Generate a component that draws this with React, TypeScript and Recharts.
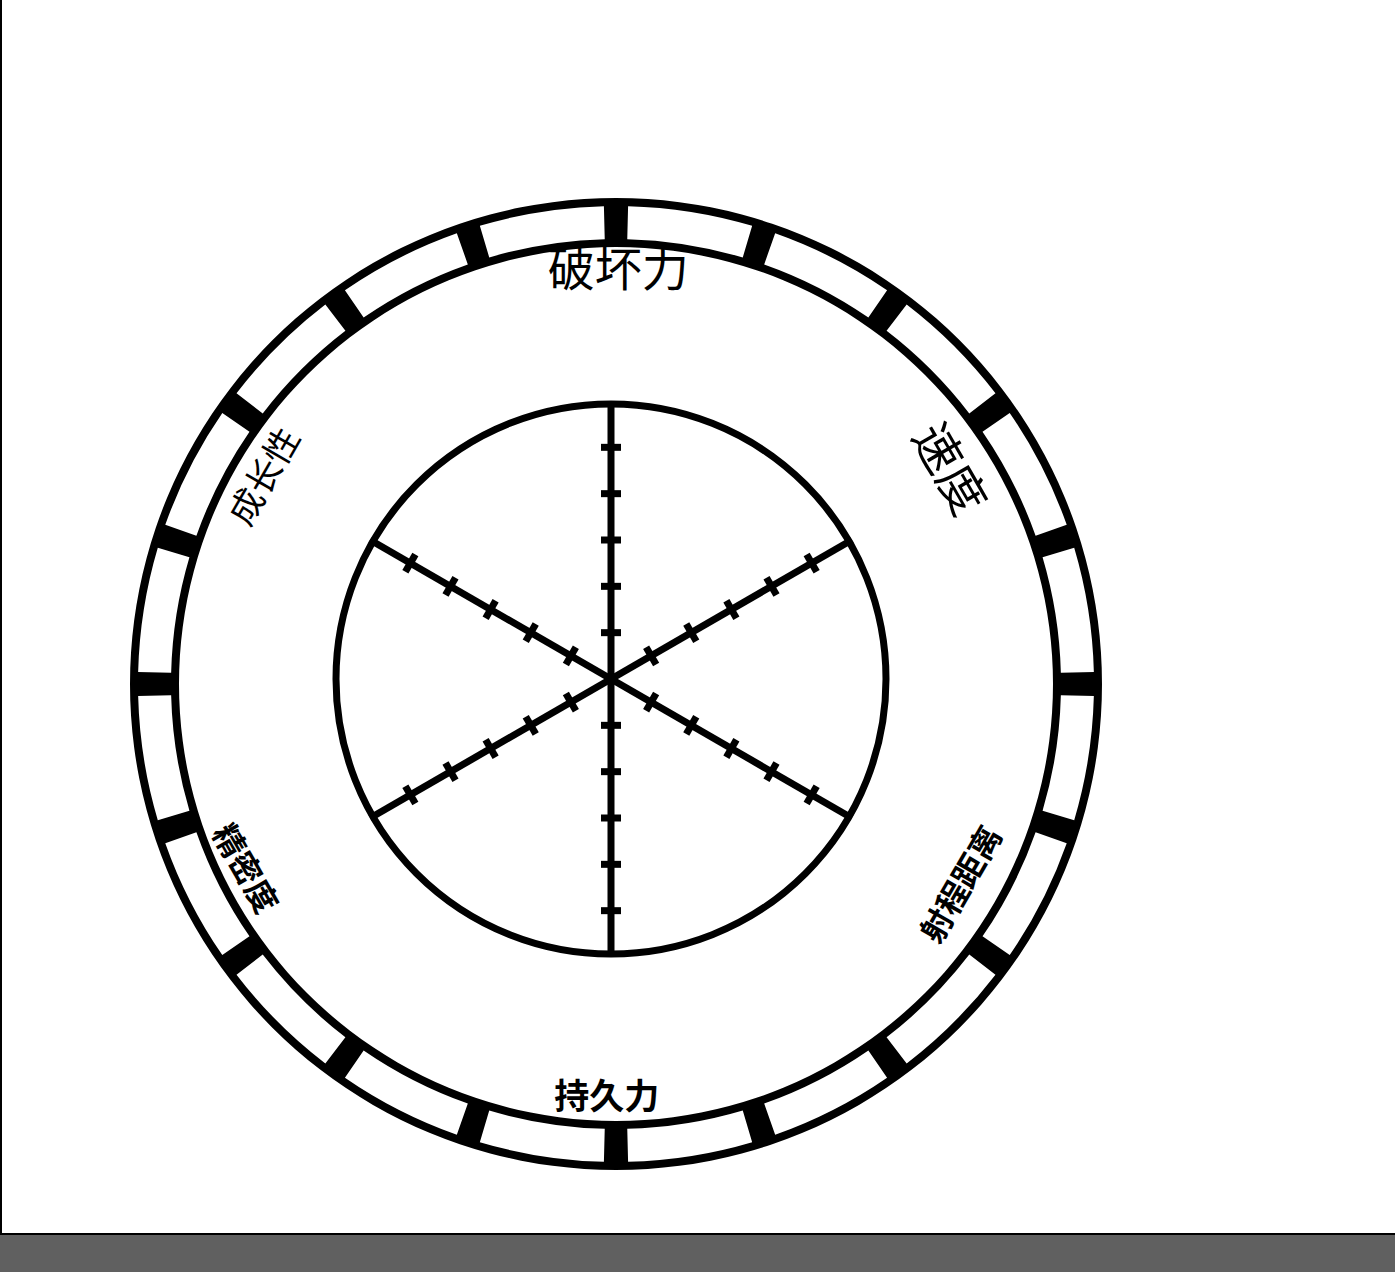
import {
  PieChart,
  Pie,
  Cell,
  RadarChart,
  PolarGrid,
  PolarAngleAxis,
  PolarRadiusAxis,
} from 'recharts';

// Stand parameters (blank sheet, no values plotted)
const stats = ['破坏力', '速度', '射程距离', '持久力', '精密度', '成长性'];
// Rank marks on each spoke (E..A), spoke ends at 6
const rankTicks = [1, 2, 3, 4, 5];
const rankMax = 6;
// Outer dial: 20 equal segments
const dialSegments = [1, 1, 1, 1, 1, 1, 1, 1, 1, 1, 1, 1, 1, 1, 1, 1, 1, 1, 1, 1];

// label look: size, weight, radius and a small angular nudge (deg, clockwise)
const labelStyle = [
  { size: 47, weight: 400, r: 411, nudge: 1.0 },
  { size: 48, weight: 400, r: 400, nudge: -1.8 },
  { size: 32, weight: 700, r: 405, nudge: 0.4 },
  { size: 35, weight: 700, r: 416, nudge: 0.6 },
  { size: 32, weight: 700, r: 411, nudge: 2.6 },
  { size: 35, weight: 400, r: 403, nudge: 0.3 },
];

const W = 1395;
const H = 1233;
const CX = 611;
const CY = 679;
const GAP = 2.9; // angular width of the dial marks
const spokeAngles = [90, 30, -30, -90, -150, 150];

const data = stats.map((s) => ({ stat: s }));
const dialData = dialSegments.map((v) => ({ v }));

function StatLabel(props: any) {
  const { payload, index } = props;
  const st = labelStyle[index] ?? labelStyle[0];
  const a = payload.coordinate - st.nudge;
  const rad = (a * Math.PI) / 180;
  const x = CX + st.r * Math.cos(rad);
  const y = CY - st.r * Math.sin(rad);
  let rot = (((90 - payload.coordinate) % 360) + 360) % 360;
  if (rot > 90 && rot < 270) rot -= 180;
  else if (rot >= 270) rot -= 360;
  return (
    <text
      x={x}
      y={y}
      dy={-st.size * 0.05}
      transform={`rotate(${rot} ${x} ${y})`}
      textAnchor="middle"
      dominantBaseline="central"
      fontSize={st.size}
      fontWeight={st.weight}
      fontFamily="'Noto Sans CJK SC', 'Noto Sans CJK JP', sans-serif"
      fill="#000"
    >
      {payload.value}
    </text>
  );
}

const makeRankTick = (angle: number) => (props: any) => {
  const { x, y, payload } = props;
  if (payload.value <= 0 || payload.value >= rankMax) return <g />;
  const rad = (angle * Math.PI) / 180;
  const px = Math.sin(rad) * 10;
  const py = Math.cos(rad) * 10;
  return <line x1={x - px} y1={y - py} x2={x + px} y2={y + py} stroke="#000" strokeWidth={7} />;
};

export default function App() {
  return (
    <div style={{ position: 'fixed', left: 0, top: 0, width: W, height: 1272, background: '#fff' }}>
      <div
        style={{
          position: 'absolute',
          left: 0,
          top: 0,
          width: W,
          height: 1235,
          borderLeft: '2px solid #000',
          borderBottom: '2px solid #000',
          boxSizing: 'border-box',
        }}
      />
      <div style={{ position: 'absolute', left: 0, top: 1235, width: W, height: 37, background: '#606060' }} />

      <div style={{ position: 'absolute', left: 0, top: 0 }}>
        <PieChart width={W} height={H}>
          <Pie
            data={[{ v: 1 }]}
            dataKey="v"
            cx={CX}
            cy={CY}
            innerRadius={437}
            outerRadius={486}
            startAngle={90}
            endAngle={-270}
            stroke="none"
            isAnimationActive={false}
          >
            <Cell fill="#000" />
          </Pie>
          <Pie
            data={dialData}
            dataKey="v"
            cx={CX}
            cy={CY}
            innerRadius={445}
            outerRadius={478}
            startAngle={90 - GAP / 2}
            endAngle={90 - GAP / 2 - 360}
            paddingAngle={GAP}
            stroke="none"
            isAnimationActive={false}
          >
            {dialData.map((_, i) => (
              <Cell key={i} fill="#fff" />
            ))}
          </Pie>
        </PieChart>
      </div>

      <div style={{ position: 'absolute', left: 0, top: 0 }}>
        <RadarChart width={W} height={H} data={data} cx={CX} cy={CY} outerRadius={278}>
          <PolarGrid gridType="circle" polarRadius={[275]} stroke="#000" strokeWidth={7} />
          <PolarAngleAxis dataKey="stat" axisLine={false} tickLine={false} tick={StatLabel} />
          {spokeAngles.map((ang, i) => (
            <PolarRadiusAxis
              key={i}
              radiusAxisId={i}
              angle={ang}
              type="number"
              domain={[0, rankMax]}
              allowDataOverflow
              ticks={rankTicks as any}
              tickCount={rankMax + 1}
              axisLine={false}
              tick={makeRankTick(ang)}
            />
          ))}
        </RadarChart>
      </div>
    </div>
  );
}
